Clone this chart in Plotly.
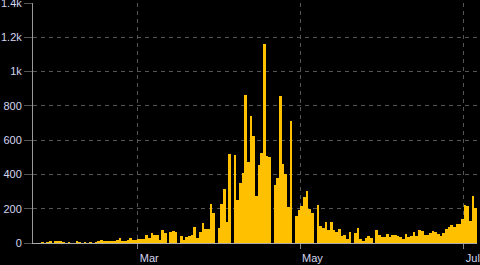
import pandas as pd
import plotly.graph_objects as go

start_date = "2020-01-22"
values = [
    0, 0, 0, 1, 0, 1, 7, 0, 6, 6, 6, 1, 0, 1, 0, 0, 7, 1, 0, 1,
    0, 1, 0, 2, 12, 20, 9, 9, 14, 14, 14, 20, 27, 14, 14, 19, 27, 16, 16, 21,
    21, 21, 46, 30, 61, 45, 45, 16, 73, 61, 0, 66, 72, 66, 0, 43, 16, 37, 43, 49,
    95, 31, 66, 119, 84, 84, 229, 177, 0, 89, 229, 317, 124, 521, 0, 515, 253, 352, 410, 865,
    474, 742, 626, 276, 457, 527, 1162, 509, 503, 0, 340, 381, 859, 462, 404, 212, 713, 0, 159, 194,
    218, 270, 305, 200, 177, 0, 224, 100, 89, 122, 78, 124, 78, 67, 84, 42, 49, 21, 66, 0,
    60, 89, 25, 14, 31, 43, 31, 0, 78, 49, 37, 37, 54, 37, 49, 49, 43, 37, 25, 54,
    37, 43, 66, 43, 78, 72, 49, 49, 60, 72, 66, 54, 43, 60, 84, 95, 107, 95, 113, 113,
    142, 223, 218, 130, 276, 206,
]
dates = pd.date_range(start_date, periods=len(values), freq="D")

x_range = ["2020-01-22", "2020-07-06"]
x_ticks = ["2020-03-01", "2020-05-01", "2020-07-01"]
x_labels = ["Mar", "May", "Jul\u2002"]
y_ticks = [0, 200, 400, 600, 800, 1000, 1200, 1400]
y_labels = ["0", "200", "400", "600", "800", "1k", "1.2k", "1.4k"]

fig = go.Figure(
    go.Bar(
        x=dates,
        y=values,
        marker=dict(color="#FFC000", line=dict(width=0)),
        xperiod=86400000,
        xperiodalignment="middle",
    )
)

label_color = "#d4d6f0"
grid_color = "#555555"

fig.update_layout(
    width=480,
    height=265,
    margin=dict(l=33, r=3, t=3, b=21.5),
    paper_bgcolor="#000000",
    plot_bgcolor="#000000",
    bargap=0,
    showlegend=False,
    font=dict(family="Arial, Liberation Sans", size=11, color=label_color),
)
fig.update_xaxes(
    type="date",
    range=x_range,
    tickvals=x_ticks,
    ticktext=x_labels,
    showgrid=True,
    gridcolor=grid_color,
    griddash="4px,4px",
    gridwidth=1,
    ticks="outside",
    ticklen=5,
    tickcolor="#888888",
    ticklabelshift=12,
    ticklabeloverflow="allow",
    automargin=False,
    showline=True,
    linecolor="#aaaaaa",
    linewidth=1,
    zeroline=False,
    tickfont=dict(color=label_color, size=11),
)
fig.update_yaxes(
    range=[0, 1400],
    tickvals=y_ticks,
    ticktext=y_labels,
    showgrid=True,
    gridcolor=grid_color,
    griddash="4px,4px",
    gridwidth=1,
    ticks="outside",
    ticklen=8,
    tickcolor=grid_color,
    ticklabeloverflow="allow",
    automargin=False,
    showline=True,
    linecolor="#999999",
    linewidth=1,
    zeroline=False,
    tickfont=dict(color=label_color, size=11),
)

fig.write_html("out.html")
